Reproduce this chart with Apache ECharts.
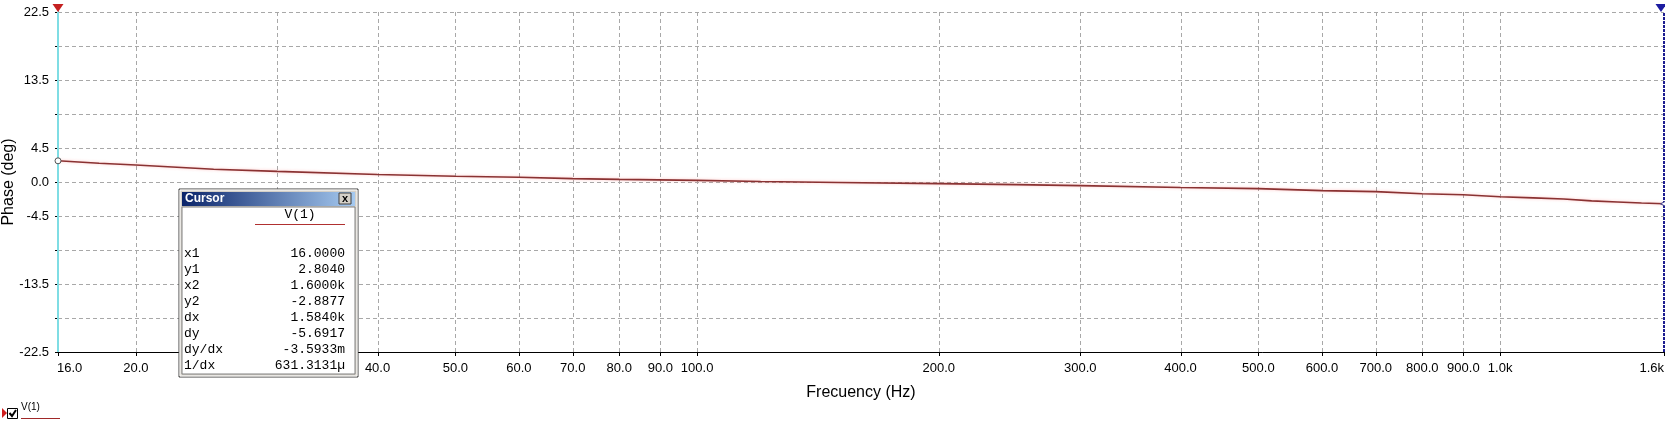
<!DOCTYPE html>
<html><head><meta charset="utf-8">
<script src="https://cdn.jsdelivr.net/npm/echarts@6/dist/echarts.min.js"></script>
<style>html,body{margin:0;padding:0;background:#fff}#c{width:1665px;height:427px}</style>
</head><body><div id="c"></div>
<script>
// ---- data ----
const freqHz   = [16, 18, 20, 25, 30, 40, 50, 60, 70, 80, 100, 120, 150, 200, 250, 300, 400, 500, 600, 700, 800, 900, 1000, 1100, 1200, 1300, 1400, 1500, 1600];
const phaseDeg = [2.804, 2.48, 2.26, 1.68, 1.40, 0.99, 0.76, 0.62, 0.45, 0.35, 0.21, 0.07, -0.07, -0.21, -0.35, -0.48, -0.73, -0.88, -1.14, -1.28, -1.55, -1.69, -1.96, -2.10, -2.25, -2.50, -2.64, -2.78, -2.8877];
const xTickValues = [16, 20, 30, 40, 50, 60, 70, 80, 90, 100, 200, 300, 400, 500, 600, 700, 800, 900, 1000, 1600];
const xTickLabels = ['16.0','20.0','30.0','40.0','50.0','60.0','70.0','80.0','90.0','100.0','200.0','300.0','400.0','500.0','600.0','700.0','800.0','900.0','1.0k','1.6k'];
const yLabelValues = [22.5, 13.5, 4.5, 0, -4.5, -13.5, -22.5];
const Y_MIN = -22.5, Y_MAX = 22.5, Y_STEP = 4.5;
const X_MIN = 16, X_MAX = 1600;
const cursorX = [16, 1600];
const cursorY = [2.804, -2.8877];
const cursorRowNames  = ['x1', 'y1', 'x2', 'y2', 'dx', 'dy', 'dy/dx', '1/dx'];
const cursorRowValues = ['16.0000', '2.8040', '1.6000k', '-2.8877', '1.5840k', '-5.6917', '-3.5933m', '631.3131\u00b5'];
const seriesName = 'V(1)';
const yAxisTitle = 'Phase (deg)';
const xAxisTitle = 'Frecuency (Hz)';

const FONT = '"Liberation Sans", Arial, sans-serif';
const MONO = '"Liberation Mono", "Courier New", monospace';

const chart = echarts.init(document.getElementById('c'), null, {renderer: 'canvas'});

// cursor box graphics
const box = {x: 179, y: 189, w: 179, h: 188};
const cursorChildren = [
  {type: 'rect', shape: {x: box.x, y: box.y, width: box.w, height: box.h}, style: {fill: '#d4d0c8', stroke: '#404040', lineWidth: 1}},
  {type: 'rect', shape: {x: box.x + 1, y: box.y + 1, width: box.w - 2, height: box.h - 2}, style: {fill: '#d4d0c8', stroke: '#ffffff', lineWidth: 1}},
  {type: 'rect', shape: {x: box.x + 3, y: box.y + 3, width: box.w - 6, height: 14},
    style: {fill: {type: 'linear', x: 0, y: 0, x2: 1, y2: 0, colorStops: [{offset: 0, color: '#0a246a'}, {offset: 1, color: '#a6caf0'}]}}},
  {type: 'text', x: box.x + 6, y: box.y + 10, style: {text: 'Cursor', fill: '#ffffff', font: 'bold 12px ' + FONT, verticalAlign: 'middle'}},
  {type: 'rect', shape: {x: box.x + 160, y: box.y + 4, width: 12, height: 11}, style: {fill: '#d4d0c8', stroke: '#404040', lineWidth: 1}},
  {type: 'text', x: box.x + 166, y: box.y + 9.5, style: {text: 'x', fill: '#000', font: 'bold 11px ' + FONT, align: 'center', verticalAlign: 'middle'}},
  {type: 'rect', shape: {x: box.x + 3, y: box.y + 18, width: box.w - 6, height: box.h - 21}, style: {fill: '#ffffff', stroke: '#808080', lineWidth: 1}},
  {type: 'text', x: 300, y: 215, style: {text: seriesName, fill: '#000', font: '13px ' + MONO, align: 'center', verticalAlign: 'middle'}},
  {type: 'line', shape: {x1: 255, y1: 224.5, x2: 345, y2: 224.5}, style: {stroke: '#b03030', lineWidth: 1}}
];
cursorRowNames.forEach((n, i) => {
  const yy = 254 + i * 16;
  cursorChildren.push({type: 'text', x: 184, y: yy, style: {text: n, fill: '#000', font: '13px ' + MONO, verticalAlign: 'middle'}});
  cursorChildren.push({type: 'text', x: 345, y: yy, style: {text: cursorRowValues[i], fill: '#000', font: '13px ' + MONO, align: 'right', verticalAlign: 'middle'}});
});
cursorChildren.forEach(c => { c.z = 100; });

const legendChildren = [
  {type: 'polygon', shape: {points: [[2, 408], [7, 413], [2, 418]]}, style: {fill: '#d02020'}},
  {type: 'rect', shape: {x: 7.5, y: 408.5, width: 10, height: 10}, style: {fill: '#fff', stroke: '#000', lineWidth: 1}},
  {type: 'polyline', shape: {points: [[9.5, 413], [12, 416], [16, 410]]}, style: {stroke: '#000', lineWidth: 2, fill: null}},
  {type: 'text', x: 21, y: 407, style: {text: seriesName, fill: '#000', font: '10px ' + FONT, verticalAlign: 'middle'}},
  {type: 'line', shape: {x1: 21, y1: 418.5, x2: 60, y2: 418.5}, style: {stroke: '#a02828', lineWidth: 1}}
];

const option = {
  animation: false,
  backgroundColor: '#ffffff',
  grid: {left: 58, right: 1, top: 12, bottom: 75, containLabel: false, outerBoundsMode: 'none'},
  xAxis: {
    type: 'log', logBase: 10, min: X_MIN, max: X_MAX,
    name: xAxisTitle, nameLocation: 'middle', nameGap: 33,
    nameTextStyle: {fontFamily: FONT, fontSize: 16, color: '#000'},
    axisLine: {show: true, onZero: false, lineStyle: {color: '#000', width: 1}},
    axisTick: {show: false}, axisLabel: {show: false},
    splitLine: {show: false}, minorTick: {show: false}, minorSplitLine: {show: false}
  },
  yAxis: {
    type: 'value', min: Y_MIN, max: Y_MAX, interval: Y_STEP,
    axisLine: {show: true, onZero: false, lineStyle: {color: '#000'}},
    axisTick: {show: true, length: 3, lineStyle: {color: '#000'}},
    axisLabel: {
      margin: 9, fontFamily: FONT, fontSize: 13, color: '#000',
      formatter: v => yLabelValues.some(t => Math.abs(t - v) < 1e-6) ? v.toFixed(1) : ''
    },
    splitLine: {show: true, lineStyle: {color: '#a8a8a8', type: [4, 3], width: 1}}
  },
  series: [
    {
      type: 'custom', name: 'xticks', silent: true, clip: false, z: 1,
      data: xTickValues.map(v => [v, Y_MIN]),
      encode: {x: 0, y: 1},
      renderItem: (params, api) => {
        const i = params.dataIndex;
        const v = api.value(0);
        const top = api.coord([v, Y_MAX]);
        const bot = api.coord([v, Y_MIN]);
        const edge = (i === 0 || i === xTickValues.length - 1);
        const x = Math.round(bot[0]) + 0.5;
        const children = [];
        if (!edge) {
          children.push({type: 'line', shape: {x1: x, y1: top[1], x2: x, y2: bot[1]},
            style: {stroke: '#a8a8a8', lineWidth: 1, lineDash: [4, 3]}});
        }
        children.push({type: 'line', shape: {x1: x, y1: bot[1], x2: x, y2: bot[1] + 4},
          style: {stroke: '#000', lineWidth: 1}});
        children.push({type: 'text', x: i === 0 ? bot[0] - 1 : bot[0], y: bot[1] + 16,
          style: {text: xTickLabels[i], fill: '#000', font: '13px ' + FONT,
            align: i === 0 ? 'left' : (i === xTickValues.length - 1 ? 'right' : 'center'), verticalAlign: 'middle'}});
        return {type: 'group', children: children};
      }
    },
    {
      type: 'line', name: seriesName, z: 3,
      data: freqHz.map((f, i) => [f, phaseDeg[i]]),
      showSymbol: false, smooth: false,
      lineStyle: {color: '#8a3232', width: 1.6, shadowColor: 'rgba(255,120,120,0.45)', shadowBlur: 3},
      itemStyle: {color: '#8a3232'},
      markLine: {
        silent: true, symbol: ['none', 'none'], label: {show: false}, animation: false,
        data: [
          {xAxis: cursorX[0], lineStyle: {color: '#7fdde4', width: 2, type: 'solid'}},
          {xAxis: cursorX[1], lineStyle: {color: '#1c1c90', width: 2, type: [3, 1]}}
        ]
      },
      markPoint: {
        silent: true, label: {show: false}, animation: false,
        data: [
          {coord: [cursorX[0], Y_MAX], symbol: 'triangle', symbolRotate: 180, symbolSize: [11, 8], symbolOffset: [0, -4], itemStyle: {color: '#c42020'}},
          {coord: [cursorX[1], Y_MAX], symbol: 'triangle', symbolRotate: 180, symbolSize: [11, 8], symbolOffset: [-3, -4], itemStyle: {color: '#1c1ca0'}},
          {coord: [cursorX[0], cursorY[0]], symbol: 'circle', symbolSize: 6, itemStyle: {color: '#ffffff', borderColor: '#555', borderWidth: 1}},
          {coord: [cursorX[1], cursorY[1]], symbol: 'triangle', symbolRotate: 90, symbolSize: 7, itemStyle: {color: '#ffffff', borderColor: '#3a3a8a', borderWidth: 1}}
        ]
      }
    }
  ],
  graphic: {
    elements: [
      {type: 'text', x: 9, y: 182, rotation: Math.PI / 2, z: 50,
        style: {text: yAxisTitle, fill: '#000', font: '16px ' + FONT, align: 'center', verticalAlign: 'middle'}},
      {type: 'group', z: 100, children: cursorChildren},
      {type: 'group', z: 100, children: legendChildren}
    ]
  }
};
chart.setOption(option);
</script>
</body></html>
